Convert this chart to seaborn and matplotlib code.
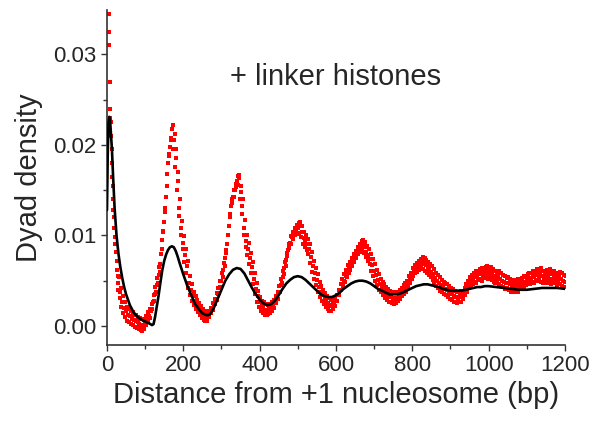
import numpy as np
import pandas as pd
import seaborn as sns
import matplotlib.pyplot as plt
from matplotlib.ticker import MultipleLocator, FormatStrFormatter

# measured dyad density (red squares), first 30 bp read point by point
early_bp = [4, 5, 6, 7, 8, 9, 10, 11, 12, 13, 14, 15, 16, 17, 18, 19, 20, 21, 23, 25, 27, 29]
early_val = [0.0345, 0.0325, 0.031, 0.027, 0.024, 0.023, 0.0225, 0.021, 0.0195, 0.018,
             0.0165, 0.0155, 0.014, 0.0128, 0.012, 0.0108, 0.0098, 0.009, 0.0082, 0.0072,
             0.0062, 0.0055]

# then every 5 bp from 30 to 1200: middle of the red band, its upper and lower edge
grid_bp = np.arange(30, 1201, 5)
grid_val = [
    0.0047, 0.0037, 0.0026, 0.0020, 0.0016, 0.0012, 0.0011, 0.0008, 0.0007, 0.0005,
    0.0004, 0.0002, 0.0001, -0.0001, 0.0003, 0.0007, 0.0011, 0.0016, 0.0027, 0.0035,
    0.0045, 0.0056, 0.0068, 0.0095, 0.0115, 0.0142, 0.0180, 0.0198, 0.0218, 0.0205,
    0.0185, 0.0160, 0.0130, 0.0108, 0.0092, 0.0078, 0.0066, 0.0048, 0.0040, 0.0033,
    0.0028, 0.0024, 0.0020, 0.0017, 0.0014, 0.0012, 0.0010, 0.0011, 0.0015, 0.0019,
    0.0024, 0.0030, 0.0035, 0.0043, 0.0050, 0.0062, 0.0075, 0.0090, 0.0110, 0.0132,
    0.0143, 0.0150, 0.0160, 0.0163, 0.0148, 0.0132, 0.0108, 0.0094, 0.0085, 0.0075,
    0.0065, 0.0052, 0.0041, 0.0033, 0.0026, 0.0023, 0.0020, 0.0018, 0.0017, 0.0019,
    0.0020, 0.0022, 0.0026, 0.0031, 0.0037, 0.0045, 0.0054, 0.0064, 0.0073, 0.0084,
    0.0092, 0.0098, 0.0102, 0.0106, 0.0108, 0.0110, 0.0104, 0.0097, 0.0094, 0.0090,
    0.0085, 0.0076, 0.0066, 0.0058, 0.0051, 0.0043, 0.0038, 0.0034, 0.0030, 0.0027,
    0.0025, 0.0023, 0.0022, 0.0025, 0.0028, 0.0034, 0.0040, 0.0046, 0.0050, 0.0055,
    0.0060, 0.0064, 0.0068, 0.0072, 0.0077, 0.0081, 0.0085, 0.0088, 0.0090, 0.0087,
    0.0082, 0.0078, 0.0074, 0.0067, 0.0061, 0.0056, 0.0051, 0.0046, 0.0043, 0.0040,
    0.0037, 0.0035, 0.0033, 0.0032, 0.0031, 0.0030, 0.0031, 0.0034, 0.0036, 0.0039,
    0.0041, 0.0044, 0.0049, 0.0053, 0.0058, 0.0061, 0.0064, 0.0066, 0.0068, 0.0071,
    0.0069, 0.0067, 0.0065, 0.0062, 0.0060, 0.0057, 0.0053, 0.0050, 0.0048, 0.0045,
    0.0043, 0.0041, 0.0040, 0.0038, 0.0036, 0.0035, 0.0033, 0.0032, 0.0031, 0.0033,
    0.0032, 0.0036, 0.0040, 0.0044, 0.0048, 0.0050, 0.0052, 0.0055, 0.0054, 0.0057,
    0.0058, 0.0056, 0.0059, 0.0061, 0.0058, 0.0060, 0.0057, 0.0055, 0.0053, 0.0055,
    0.0052, 0.0050, 0.0049, 0.0047, 0.0048, 0.0046, 0.0044, 0.0045, 0.0043, 0.0046,
    0.0044, 0.0047, 0.0049, 0.0048, 0.0051, 0.0053, 0.0052, 0.0055, 0.0054, 0.0057,
    0.0056, 0.0058, 0.0055, 0.0053, 0.0056, 0.0054, 0.0057, 0.0052, 0.0055, 0.0053,
    0.0051, 0.0054, 0.0052, 0.0050, 0.0049,
]
band_hi = [
    0.0054, 0.0042, 0.0033, 0.0027, 0.0021, 0.0019, 0.0017, 0.0015, 0.0012, 0.0012,
    0.0010, 0.0009, 0.0008, 0.0007, 0.0011, 0.0015, 0.0019, 0.0024, 0.0034, 0.0043,
    0.0053, 0.0065, 0.0080, 0.0104, 0.0126, 0.0155, 0.0190, 0.0208, 0.0222, 0.0212,
    0.0195, 0.0170, 0.0140, 0.0116, 0.0099, 0.0085, 0.0072, 0.0055, 0.0046, 0.0038,
    0.0033, 0.0029, 0.0025, 0.0022, 0.0019, 0.0017, 0.0015, 0.0016, 0.0020, 0.0025,
    0.0030, 0.0036, 0.0042, 0.0050, 0.0058, 0.0070, 0.0084, 0.0100, 0.0120, 0.0140,
    0.0150, 0.0157, 0.0166, 0.0167, 0.0155, 0.0140, 0.0117, 0.0101, 0.0092, 0.0081,
    0.0071, 0.0059, 0.0047, 0.0039, 0.0032, 0.0028, 0.0026, 0.0024, 0.0023, 0.0024,
    0.0026, 0.0029, 0.0033, 0.0038, 0.0044, 0.0052, 0.0061, 0.0071, 0.0081, 0.0091,
    0.0099, 0.0104, 0.0108, 0.0112, 0.0114, 0.0115, 0.0110, 0.0104, 0.0100, 0.0096,
    0.0091, 0.0082, 0.0072, 0.0064, 0.0057, 0.0049, 0.0044, 0.0040, 0.0036, 0.0033,
    0.0031, 0.0029, 0.0028, 0.0031, 0.0034, 0.0040, 0.0046, 0.0052, 0.0057, 0.0062,
    0.0067, 0.0071, 0.0075, 0.0079, 0.0083, 0.0087, 0.0091, 0.0094, 0.0095, 0.0093,
    0.0088, 0.0085, 0.0080, 0.0074, 0.0068, 0.0062, 0.0057, 0.0052, 0.0049, 0.0046,
    0.0043, 0.0041, 0.0039, 0.0038, 0.0037, 0.0036, 0.0037, 0.0040, 0.0042, 0.0045,
    0.0047, 0.0050, 0.0055, 0.0059, 0.0064, 0.0067, 0.0070, 0.0072, 0.0074, 0.0076,
    0.0075, 0.0073, 0.0071, 0.0068, 0.0066, 0.0063, 0.0059, 0.0056, 0.0054, 0.0051,
    0.0049, 0.0047, 0.0046, 0.0044, 0.0042, 0.0041, 0.0039, 0.0038, 0.0037, 0.0039,
    0.0038, 0.0042, 0.0046, 0.0050, 0.0054, 0.0056, 0.0058, 0.0061, 0.0060, 0.0063,
    0.0064, 0.0062, 0.0065, 0.0066, 0.0064, 0.0065, 0.0063, 0.0061, 0.0059, 0.0061,
    0.0058, 0.0056, 0.0055, 0.0053, 0.0054, 0.0052, 0.0050, 0.0051, 0.0049, 0.0052,
    0.0050, 0.0053, 0.0055, 0.0054, 0.0057, 0.0059, 0.0058, 0.0061, 0.0060, 0.0063,
    0.0062, 0.0064, 0.0061, 0.0059, 0.0062, 0.0060, 0.0063, 0.0058, 0.0061, 0.0059,
    0.0057, 0.0060, 0.0058, 0.0056, 0.0055,
]
band_lo = [
    0.0040, 0.0031, 0.0021, 0.0014, 0.0010, 0.0006, 0.0004, 0.0002, 0.0001, -0.0001,
    -0.0002, -0.0003, -0.0004, -0.0005, -0.0003, 0.0001, 0.0004, 0.0009, 0.0019, 0.0028,
    0.0037, 0.0048, 0.0060, 0.0085, 0.0105, 0.0130, 0.0168, 0.0188, 0.0205, 0.0195,
    0.0176, 0.0150, 0.0121, 0.0100, 0.0085, 0.0071, 0.0059, 0.0042, 0.0034, 0.0028,
    0.0023, 0.0019, 0.0015, 0.0012, 0.0009, 0.0007, 0.0005, 0.0006, 0.0010, 0.0014,
    0.0018, 0.0024, 0.0029, 0.0036, 0.0043, 0.0054, 0.0066, 0.0081, 0.0100, 0.0124,
    0.0136, 0.0142, 0.0153, 0.0156, 0.0140, 0.0124, 0.0100, 0.0087, 0.0078, 0.0069,
    0.0059, 0.0046, 0.0035, 0.0027, 0.0021, 0.0017, 0.0014, 0.0012, 0.0012, 0.0013,
    0.0014, 0.0016, 0.0020, 0.0025, 0.0030, 0.0038, 0.0047, 0.0057, 0.0066, 0.0077,
    0.0086, 0.0091, 0.0096, 0.0100, 0.0102, 0.0103, 0.0098, 0.0091, 0.0087, 0.0084,
    0.0079, 0.0070, 0.0060, 0.0052, 0.0045, 0.0037, 0.0032, 0.0028, 0.0024, 0.0021,
    0.0019, 0.0017, 0.0016, 0.0019, 0.0022, 0.0028, 0.0034, 0.0040, 0.0044, 0.0049,
    0.0054, 0.0058, 0.0062, 0.0066, 0.0071, 0.0075, 0.0079, 0.0082, 0.0084, 0.0081,
    0.0076, 0.0072, 0.0068, 0.0061, 0.0055, 0.0050, 0.0045, 0.0040, 0.0037, 0.0034,
    0.0031, 0.0029, 0.0027, 0.0026, 0.0025, 0.0024, 0.0025, 0.0028, 0.0030, 0.0033,
    0.0035, 0.0038, 0.0043, 0.0047, 0.0052, 0.0055, 0.0058, 0.0060, 0.0062, 0.0065,
    0.0063, 0.0061, 0.0059, 0.0056, 0.0054, 0.0051, 0.0047, 0.0044, 0.0042, 0.0039,
    0.0037, 0.0035, 0.0034, 0.0032, 0.0030, 0.0029, 0.0027, 0.0026, 0.0025, 0.0027,
    0.0026, 0.0030, 0.0034, 0.0038, 0.0042, 0.0044, 0.0046, 0.0049, 0.0048, 0.0051,
    0.0052, 0.0050, 0.0053, 0.0055, 0.0052, 0.0054, 0.0051, 0.0049, 0.0047, 0.0049,
    0.0046, 0.0044, 0.0043, 0.0041, 0.0042, 0.0040, 0.0038, 0.0039, 0.0037, 0.0040,
    0.0038, 0.0041, 0.0043, 0.0042, 0.0045, 0.0047, 0.0046, 0.0049, 0.0048, 0.0051,
    0.0050, 0.0052, 0.0049, 0.0047, 0.0050, 0.0048, 0.0051, 0.0046, 0.0049, 0.0047,
    0.0045, 0.0048, 0.0046, 0.0044, 0.0043,
]

# model curve (black line)
model_bp = [0, 2, 4, 6, 8, 10, 13, 16, 20, 25, 30, 35, 40, 45, 50, 60, 70, 80, 90, 100,
            110, 118, 122, 126, 130, 135, 140, 145, 150, 155, 160, 165, 170, 175, 180, 185,
            190, 200, 210, 220, 230, 240, 250, 260, 265, 270, 280, 290, 300, 310, 320, 330,
            340, 350, 360, 370, 380, 390, 400, 410, 420, 430, 440, 450, 460, 470, 480, 490,
            500, 510, 520, 530, 540, 550, 560, 570, 580, 590, 600, 610, 620, 630, 640, 650,
            660, 670, 680, 690, 700, 710, 720, 730, 740, 750, 760, 770, 780, 790, 800, 810,
            820, 830, 840, 850, 860, 870, 880, 890, 900, 910, 920, 930, 940, 950, 960, 970,
            980, 990, 1000, 1020, 1040, 1060, 1080, 1100, 1120, 1140, 1160, 1180, 1200]
model_val = [0.0128, 0.019, 0.0225, 0.0231, 0.0228, 0.0215, 0.0195, 0.0165, 0.0130, 0.0100,
             0.0080, 0.0065, 0.0053, 0.0043, 0.0035, 0.0023, 0.0015, 0.0010, 0.0007, 0.0005,
             0.0003, 0.0001, 0.0002, 0.0010, 0.0020, 0.0033, 0.0048, 0.0062, 0.0072, 0.0079,
             0.0084, 0.0087, 0.0088, 0.0087, 0.0083, 0.0077, 0.0070, 0.0057, 0.0045, 0.0035,
             0.0025, 0.0019, 0.0014, 0.0012, 0.0012, 0.0013, 0.0020, 0.0030, 0.0040, 0.0050,
             0.0057, 0.0062, 0.0064, 0.0063, 0.0058, 0.0050, 0.0042, 0.0035, 0.0029, 0.0025,
             0.0023, 0.0024, 0.0028, 0.0034, 0.0041, 0.0047, 0.0051, 0.0054, 0.0055, 0.0054,
             0.0051, 0.0047, 0.0043, 0.0039, 0.0035, 0.0033, 0.0032, 0.0032, 0.0034, 0.0037,
             0.0041, 0.0044, 0.0047, 0.0049, 0.0050, 0.0050, 0.0049, 0.0047, 0.0044, 0.0041,
             0.0039, 0.0037, 0.0035, 0.0035, 0.0035, 0.0036, 0.0038, 0.0040, 0.0042, 0.0044,
             0.0045, 0.0046, 0.0046, 0.0045, 0.0044, 0.0043, 0.0041, 0.0040, 0.0039, 0.0039,
             0.0039, 0.0039, 0.0040, 0.0041, 0.0042, 0.0043, 0.0043, 0.0044, 0.0044, 0.0043,
             0.0042, 0.0041, 0.0040, 0.0040, 0.0041, 0.0042, 0.0042, 0.0042, 0.0041]

assert len(grid_val) == len(band_hi) == len(band_lo) == len(grid_bp)

dots = pd.DataFrame({
    'bp': list(early_bp) + list(grid_bp) + list(grid_bp + 2) + list(grid_bp - 2),
    'density': early_val + grid_val + band_hi + band_lo,
})
model = pd.DataFrame({'bp': model_bp, 'density': model_val})

sns.set_style('ticks')
plt.rcParams['font.family'] = ['Liberation Sans', 'DejaVu Sans']

fig = plt.figure(figsize=(5.95, 4.23), dpi=100)
ax = fig.add_axes([0.1798, 0.1844, 0.7697, 0.792])

sns.scatterplot(data=dots, x='bp', y='density', ax=ax, marker='s', s=12,
                color='#ff0000', linewidth=0, zorder=2)
sns.lineplot(data=model, x='bp', y='density', ax=ax, color='black', lw=1.9,
             zorder=3)

ax.set_xlim(0, 1200)
ax.set_ylim(-0.0021, 0.0349)
ax.xaxis.set_major_locator(MultipleLocator(200))
ax.xaxis.set_minor_locator(MultipleLocator(100))
ax.yaxis.set_major_locator(MultipleLocator(0.01))
ax.yaxis.set_minor_locator(MultipleLocator(0.005))
ax.yaxis.set_major_formatter(FormatStrFormatter('%.2f'))
ax.tick_params(which='major', length=4.5, width=1, color='#333333', labelsize=16, pad=3)
ax.tick_params(which='minor', length=3, width=1, color='#333333')
for s in ['left', 'bottom']:
    ax.spines[s].set_linewidth(1.2)
    ax.spines[s].set_color('#333333')
sns.despine(ax=ax)

ax.set_xlabel('Distance from +1 nucleosome (bp)', fontsize=21, labelpad=3)
ax.set_ylabel('Dyad density', fontsize=21, labelpad=7)
ax.text(323, 0.0266, '+ linker histones', fontsize=21)

fig.savefig('out.png', dpi=100)
